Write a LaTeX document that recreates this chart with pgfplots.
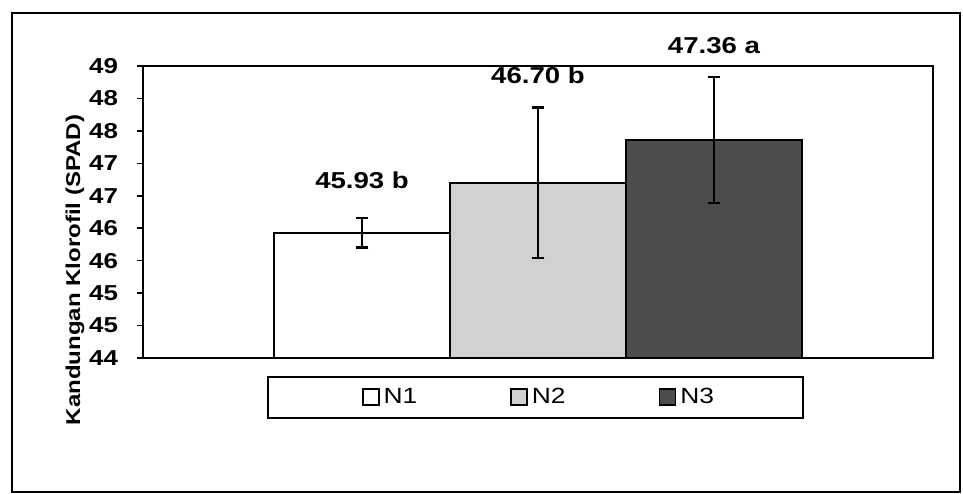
\documentclass[border=0pt]{standalone}
\usepackage{pgfplots}
\pgfplotsset{compat=1.18}
\usepackage{fontspec}
\setmainfont{Liberation Sans}
\newfontfamily\wf[FakeStretch=1.2]{Liberation Sans}
\definecolor{ntwo}{gray}{0.82}
\definecolor{nthree}{gray}{0.30}
\begin{document}
\begin{tikzpicture}
\useasboundingbox (0,0) rectangle (481.5pt,246.5pt);
\draw[line width=1pt] (6pt,0.5pt) rectangle (480pt,240pt);
\draw[line width=0.9pt] (134pt,37.5pt) rectangle (401.5pt,58pt);
\node[rotate=90, font=\wf\bfseries\fontsize{10}{12}\selectfont] at (37.5pt,111.5pt) {Kandungan Klorofil (SPAD)};
\begin{axis}[
 at={(71.5pt,67.5pt)}, anchor=south west,
 scale only axis, width=395pt, height=146pt,
 xmin=-2.245, xmax=2.245, ymin=44, ymax=48.5,
 xtick=\empty,
 ytick={44,44.5,45,45.5,46,46.5,47,47.5,48,48.5},
 yticklabels={44,45,45,46,46,47,47,48,48,49},
 tick align=outside, major tick length=3pt,
 ytick pos=left,
 tick style={black, line width=0.75pt},
 axis line style={line width=0.75pt},
 yticklabel style={font=\wf\bfseries\fontsize{10.8}{12}\selectfont, xshift=-6pt},
 clip mode=individual,
 error bars/y dir=both, error bars/y explicit,
 error bars/error bar style={line width=1pt, black},
 error bars/error mark options={rotate=90, mark size=3pt, line width=1.2pt, black},
 legend columns=3,
 legend style={at={(0.5025,-0.1336)}, anchor=center, draw=none, fill=none,
   font=\wf\fontsize{11}{13}\selectfont,
   /tikz/every even column/.append style={column sep=44.5pt}},
 legend image code/.code={\draw[#1, line width=0.8pt] (0pt,-4pt) rectangle (8pt,4pt);},
]
\addplot[ybar, bar width=1, bar shift=0pt, fill=white, draw=black, line width=1pt]
  coordinates {(-1,45.93) +- (0,0.23)};
\addlegendentry{N1}
\addplot[ybar, bar width=1, bar shift=0pt, fill=ntwo, draw=black, line width=1pt]
  coordinates {(0,46.70) +- (0,1.16)};
\addlegendentry{N2}
\addplot[ybar, bar width=1, bar shift=0pt, fill=nthree, draw=black, line width=1pt]
  coordinates {(1,47.36) +- (0,0.97)};
\addlegendentry{N3}
\node[font=\wf\bfseries\fontsize{11.5}{13}\selectfont] at (axis cs:-1,46.74) {45.93 b};
\node[font=\wf\bfseries\fontsize{11.5}{13}\selectfont] at (axis cs:0,48.35) {46.70 b};
\node[font=\wf\bfseries\fontsize{11.5}{13}\selectfont] at (axis cs:1,48.82) {47.36 a};
\end{axis}
\end{tikzpicture}
\end{document}
